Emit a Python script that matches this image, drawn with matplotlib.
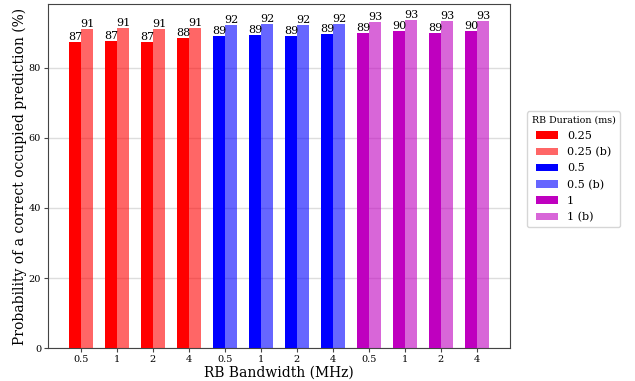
import matplotlib
matplotlib.use("Agg")
import matplotlib.pyplot as plt
import numpy as np

plt.rcParams['font.family'] = ['DejaVu Serif']

bandwidths = ["0.5", "1", "2", "4"]
durations = ["0.25", "0.5", "1"]
base_colors = ["#ff0000", "#0000ff", "#bf00bf"]

# values, one list per duration (plain / (b))
plain = {
    "0.25": [87.3, 87.6, 87.5, 88.7],
    "0.5": [89.1, 89.3, 89.1, 89.8],
    "1": [89.9, 90.6, 89.9, 90.5],
}
boosted = {
    "0.25": [91.0, 91.3, 91.1, 91.4],
    "0.5": [92.2, 92.5, 92.4, 92.5],
    "1": [93.1, 93.6, 93.3, 93.5],
}

fig = plt.figure(figsize=(6.35, 3.81), dpi=100)
ax = fig.add_axes([0.0756, 0.0866, 0.7275, 0.9029])

w = 1 / 3
ticks = []
ticklabels = []
for i, d in enumerate(durations):
    x = np.arange(len(bandwidths)) + i * len(bandwidths)
    b1 = ax.bar(x - w / 2, plain[d], w, color=base_colors[i], label=d, zorder=3)
    b2 = ax.bar(x + w / 2, boosted[d], w, color=base_colors[i], alpha=0.6,
                label=d + " (b)", zorder=3)
    ax.bar_label(b1, labels=[str(int(v)) for v in plain[d]], fontsize=8, padding=0)
    ax.bar_label(b2, labels=[str(int(v)) for v in boosted[d]], fontsize=8, padding=0)
    ticks.extend(x)
    ticklabels.extend(bandwidths)

ax.set_xticks(ticks)
ax.set_xticklabels(ticklabels, fontsize=7)
ax.set_yticks([0, 20, 40, 60, 80])
ax.tick_params(axis='both', labelsize=7, length=3, pad=2, color='#444444')
ax.grid(axis='y', color='#dddddd', linewidth=1, zorder=0)
ax.set_axisbelow(True)
for s in ax.spines.values():
    s.set_color('#444444')

ax.set_xlabel("RB Bandwidth (MHz)", fontsize=10, labelpad=1)
ax.set_ylabel("Probability of a correct occupied prediction (%)", fontsize=10, labelpad=1)

leg = ax.legend(title="RB Duration (ms)", loc="center left",
                bbox_to_anchor=(1.025, 0.52), fontsize=8, title_fontsize=6.8,
                labelspacing=0.55)

fig.savefig("out.png", dpi=100)
